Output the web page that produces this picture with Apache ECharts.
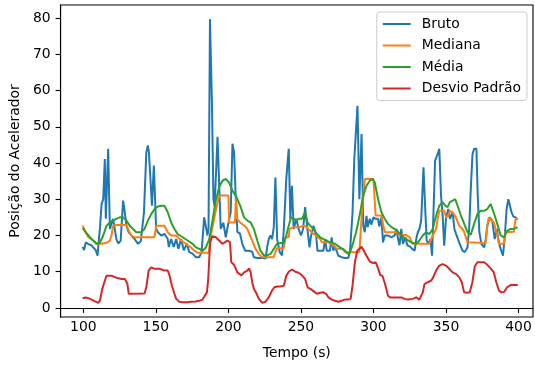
<!DOCTYPE html>
<html>
<head>
<meta charset="utf-8">
<script src="https://cdn.jsdelivr.net/npm/echarts@6/dist/echarts.min.js"></script>
<style>html,body{margin:0;padding:0;background:#fff}#c{width:535px;height:365px}</style>
</head>
<body>
<div id="c"></div>
<script>
const xTicks = [100, 150, 200, 250, 300, 350, 400];
const yTicks = [0, 10, 20, 30, 40, 50, 60, 70, 80];
const seriesNames = ['Bruto', 'Mediana', 'Média', 'Desvio Padrão'];

const brutoT = [99.5,100.5,101.7,103.5,105.5,106.8,108.5,109.8,110.5,111.4,112.6,113.7,114.8,115.5,117.1,118.3,120.5,122.8,124,125.7,127.4,128.3,129.7,131.2,133.1,135.4,137.7,139.6,141.8,143.4,144.5,145.2,147.3,148.6,150.2,151.4,153.7,156,158.2,158.9,160.5,162.3,164,165.5,167.4,169.2,171.4,173,175.3,177.6,179.9,181.5,183.3,184.3,185.6,186.3,187.3,188.6,189.7,190.5,192.5,194.7,196.5,198.2,199.3,201.6,202.8,203.9,205,206.2,208,209.6,211.5,214,216.4,217.6,220,224,225.6,226.7,227.8,229,230.1,231.3,232.4,233.6,235.4,237,238.2,239.9,241.6,242.7,243.8,245,246.8,248.4,250,251.5,252.9,253.7,255.9,256.8,258.7,260.5,261.4,263.3,265.5,266.7,267.8,270,271.2,272.3,273.5,275.8,278,280.3,282.6,283.8,285.6,286.8,289,290.3,291.8,293,294,295.2,296,297.5,298.5,300,301.5,303.2,304,305.5,306.6,307.8,310,312.4,314.6,315.8,317,318,319.2,320.3,322,323.3,325,326.7,328.4,329.5,330.6,331.7,332.9,334.5,335.8,336.7,338,339.3,340.4,341.4,342.5,344.3,345.4,346.6,347.7,348.8,350,351.6,352.7,354.6,355.8,357.3,359.1,360.3,361.4,363,364.8,366,367.1,368.3,369.4,371,371.9,373,374.4,376.3,377.4,378.5,380.1,381.9,383.6,385,386.5,387.7,389.3,390.6,391.8,393,394,395.2,396.5,398,399.3];
const brutoV = [16.8,16,18.1,17.6,17.3,16.7,16,14.4,18,21.8,28.7,30,41.1,24.6,43.9,21.8,24.6,19,17.8,18.5,29.6,27.3,22.7,20.9,20,19,17.7,18.4,26.4,42.9,44.8,43,28.2,39.3,21.8,20.9,20,20.4,19,16.8,19,16.8,19,16.3,19,15.9,17.7,15.4,15,14,14,15.4,25,25.4,20,22,79.7,57.6,30,28,47.2,21.8,23.5,19.5,22,26.4,45.3,43,31,21,20.5,17.7,15.8,15.8,15.5,14,13.8,13.8,13.6,16.7,19,20,19,22.3,36,19,15.4,14.5,21.8,35.6,43.9,24.6,33.7,21.8,24.6,21.8,20,21.8,27.8,24.6,16.7,19.5,22.7,20,15.8,15.8,15.8,19,15.8,15.8,19.5,15.8,17,14.4,14,13.8,13.8,15.4,26.4,41.1,55.8,30,48,22.7,20.9,25.4,22.3,24.6,23,25,24.6,24.6,22.5,25,18.1,20,20,19.5,20,21.8,19,17.3,21.8,17.7,19.5,17.3,17,16.3,15.8,19,20.9,21.8,24.1,38.8,26.4,18.6,17.7,19,14.4,26.4,40.6,42.5,43.9,31,25.4,17.2,24.6,27.3,24.6,26.4,21.8,20,18.1,17.7,15.8,15.4,16.7,21.8,32.8,42.5,43.9,43.9,31,21,17.7,16.7,19,22.7,25,24.1,19,21.8,18,16.3,14.4,20,27.3,30,29.6,26.4,25.2,25,24.3];

const medianaT = [99.5,101.6,103.4,106.8,109.1,112.6,116,118.3,119.4,120.5,122.8,129.7,130.8,133,135.4,149,150.2,155.9,157,158.2,160.5,163.9,165,167.4,169.7,172,174.2,176.5,178.8,186.5,187.9,190.2,191.5,193.6,200,200.5,204.5,205.3,206,208,211,213,214.5,216.4,218.7,221,223,231.2,232.4,233.5,238.2,239.3,241.5,242.2,245,249,251.8,254,256.4,258.7,260.5,261.5,263.3,264.4,269,272.4,274.7,279.2,280.5,290,290.4,292,294,300,301.5,305.5,307,308,317,318,322.6,325,327,338.5,339.5,340.9,343.2,344.3,345.4,348.8,350,351.6,352.7,354.6,356.8,359.1,361.4,362.5,364.8,366,377.4,378.5,379.5,380.8,383,384.2,385.4,386.5,390,391,392.2,396.8,398,399.5];
const medianaV = [22.7,20.9,19.5,18.6,17.7,17.7,18,18.6,20,22.7,22.9,22.9,21.8,20,19.5,19.5,22.7,22.7,22.3,20.9,20,20,19.5,18.6,18,17.3,16.7,15.8,15.2,15.2,20,24.6,27.3,31,31,23.6,23.6,31,24.6,23.6,22.7,21.8,20.4,18.6,16.3,14.9,14,14,15.4,16.5,16.5,19.5,19.5,21.8,22.3,22.3,22.7,22.3,21.3,20.4,20,19.5,19,18.1,18.1,17.3,16.3,16.3,15.4,15.4,16,26,35.6,35.6,25.5,25.5,22.3,20.9,20.9,20.1,20.1,19.5,17.7,17.7,18.1,20,21.8,24.6,26.8,26.8,25,25.5,26.8,26.4,25,22.7,21.8,21,18.1,17.9,17.9,22.7,25,25.2,23.6,21.8,20,17.7,17.7,20.9,21,21,24.6,24.6];

const mediaT = [99.5,102.7,105.7,109.1,111.4,113.7,116,118.3,120.5,122.8,125.1,127.4,129.7,132,134.2,136.5,139.9,142.2,144.5,146.8,149.1,151.4,153.7,155.9,157,158.2,160.5,162.8,165,168.5,171.9,175.3,177.6,179.9,182.2,184.5,186.8,189,191.3,193.6,195.9,198.2,200.5,202.7,205,206.2,208.5,210.8,213.1,215.3,217.6,219.9,222.1,224.4,226.7,229,231.3,233.6,235.8,238.1,239.9,241.6,243.2,245,246.8,248.4,250.7,252.9,254.5,256.4,258.7,261,263.3,265.5,267.8,270,273.5,276.9,280.3,282.6,284,286.1,288,289.5,291.3,292.9,295.2,297.5,299.4,300.9,303.2,305.5,307.8,310,312.4,315.8,319.2,322.6,326,329.5,331.7,334,336.3,338.6,340.9,343.2,345.4,347.7,349.5,351.1,352.7,354.6,356.4,358,360.3,362.6,364.8,367.1,369.4,371.7,374,376.3,378.5,380.8,381.9,383.6,385.4,387.7,390,392.2,394.5,396.8,399.3];
const mediaV = [22,20.4,19,17.7,18,20,22.7,23.6,24.1,24.6,25,25,24.1,22.7,21.8,20.9,20.9,21.8,24.1,25.9,27.3,28,28.2,28.2,27.8,26.4,23.6,21.8,20.4,19.5,18.6,17.7,16.7,16.3,15.8,16.7,19,24.1,29.6,33.3,35.1,35.6,34.6,32.4,31,30,27.8,25,24.1,23.6,21.8,18.6,15.8,14.5,14.5,14.9,16.3,17.7,17.9,17.9,20,22.7,25,24.6,24.1,24.6,24.6,26.4,23.6,22.7,21.8,20.4,19.5,19,18.6,18.1,17.7,16.7,15.8,14.9,15.5,18.1,20.9,23.6,27.3,31,33.7,35.1,35.6,34.7,30,26.4,24.6,23.2,22.3,21.5,20,19,18.1,17.7,18.6,20,20.9,20.4,21.8,25.5,28.2,29.2,28.2,27.8,29.2,29.6,30,28.2,25.5,23.2,20.9,20.2,23.2,25.9,26.8,26.8,27.3,28.7,29.2,25.5,23.2,20,19.5,21.3,21.8,21.8,22.3];

const desvioT = [99.5,101.6,103.4,105.7,108,110.3,111.4,113,114.8,116,117.1,119.4,121.7,124,126.3,128.6,130.4,131.3,142.2,143.4,145,146.8,149.1,152.5,155.9,158.2,159.4,161,162.8,164,166.2,168.5,171.9,174.2,177.6,179.9,182.2,183.8,185.2,186.1,187.4,189,191.3,193.6,195.9,197.5,199.3,201.1,202,203.9,206.2,209,210.8,213.1,214.2,215.3,216.4,217.6,219.5,221,223.3,225.6,227.8,229,230.1,231.7,233.6,235.8,238.2,239.9,241.6,243.8,246.1,248.4,250.7,252.9,254.6,256.8,259.1,261,263.3,265.5,267.4,269,271.2,273.5,275.8,278,280.3,282.6,284.3,285.6,287.2,288.8,290,291.8,293.4,295.2,297.5,299.8,301.6,303.2,304.8,306.2,307.8,308.9,310,311.6,319.2,321.5,323.8,327.2,329.5,331.7,332.9,334,335.2,337.4,339.7,341.3,343.2,345.4,347.7,350,352.3,354.6,356.8,359.1,360.9,362.5,364.8,366.4,368.2,369.9,371.7,374,376.3,378.5,380.8,383,384.7,386.5,388.1,390,392.2,394.5,399.5];
const desvioV = [2.7,2.9,2.7,2.3,1.8,1.4,2,5.2,7.5,8.9,9.4,8.9,8.5,8.2,8,8,6.6,3.9,4,5.7,10.3,11.2,10.8,10.8,10.3,10.3,9,6.2,3.9,2.5,1.7,1.6,1.6,1.7,1.8,2,2.3,3.4,4.3,8,18.1,19.8,19.5,18.6,17.7,18.1,18.6,18.1,12.6,11.9,9.8,9,9.8,10.3,10.9,10,7.1,5.2,3.9,2.5,1.4,1.7,2.9,3.4,4.8,5.7,5.9,5.9,6.1,8.9,10,10.6,10,9.7,9,8,5.7,5.2,4.5,3.9,4.2,4.3,3.9,2.9,2.3,2,1.7,2,2.3,2.3,2.5,6.2,12.6,15.8,16,16.9,15.8,14.4,12.8,12.4,12.6,10.9,9,8.9,6.9,5.2,3.4,2.9,2.9,2.5,2.3,2.5,2.9,2.3,2,4.3,6.6,7.1,7.5,8.5,10.3,11.7,12.1,11.7,10.8,9.8,9.4,8.5,7.1,4.3,4.2,4.3,7.1,11.5,12.6,12.6,12.6,11.9,10.9,9.8,7.1,4.8,4.3,4.4,5.7,6.3,6.3];

const colors = ['#1f77b4', '#ff7f0e', '#2ca02c', '#d62728'];
const zip = (t, v) => t.map((x, i) => [x, v[i]]);
const allData = [zip(brutoT, brutoV), zip(medianaT, medianaV), zip(mediaT, mediaV), zip(desvioT, desvioV)];

const font = 'DejaVu Sans';
const chart = echarts.init(document.getElementById('c'), null, {renderer: 'canvas'});
chart.setOption({
  animation: false,
  backgroundColor: '#fff',
  color: colors,
  grid: {left: 57, right: 2, top: 5, bottom: 47, show: true, borderColor: '#000', borderWidth: 1.1, backgroundColor: 'transparent'},
  legend: {
    data: seriesNames,
    orient: 'vertical',
    right: 8, top: 12,
    padding: [5, 6, 5, 6],
    itemGap: 7.5,
    itemWidth: 28, itemHeight: 2,
    icon: 'rect',
    backgroundColor: 'rgba(255,255,255,0.8)',
    borderColor: '#cccccc', borderWidth: 1, borderRadius: 3,
    textStyle: {fontFamily: font, fontSize: 13.9, color: '#000', lineHeight: 14, padding: [0, 0, 0, 6]}
  },
  xAxis: {
    type: 'value', min: 84.3, max: 410,
    name: 'Tempo (s)', nameLocation: 'middle', nameGap: 29,
    nameTextStyle: {fontFamily: font, fontSize: 13.9, color: '#000'},
    axisLine: {show: true, lineStyle: {color: '#000', width: 1.1}},
    axisTick: {show: true, inside: false, length: 5, lineStyle: {color: '#000', width: 1.1}, customValues: xTicks},
    axisLabel: {fontFamily: font, fontSize: 13.9, color: '#000', margin: 3, customValues: xTicks},
    splitLine: {show: false}
  },
  yAxis: {
    type: 'value', min: -2.5, max: 83.6,
    name: 'Posição do Acelerador', nameLocation: 'middle', nameGap: 31,
    nameTextStyle: {fontFamily: font, fontSize: 13.9, color: '#000'},
    axisLine: {show: true, lineStyle: {color: '#000', width: 1.1}},
    axisTick: {show: true, inside: false, length: 5, lineStyle: {color: '#000', width: 1.1}, customValues: yTicks},
    axisLabel: {fontFamily: font, fontSize: 13.9, color: '#000', margin: 10, customValues: yTicks},
    splitLine: {show: false}
  },
  series: seriesNames.map((n, i) => ({
    name: n, type: 'line', data: allData[i], showSymbol: false, symbol: 'none',
    lineStyle: {width: 2, color: colors[i]}, itemStyle: {color: colors[i]}, z: 2 + i
  }))
});
</script>
</body>
</html>
